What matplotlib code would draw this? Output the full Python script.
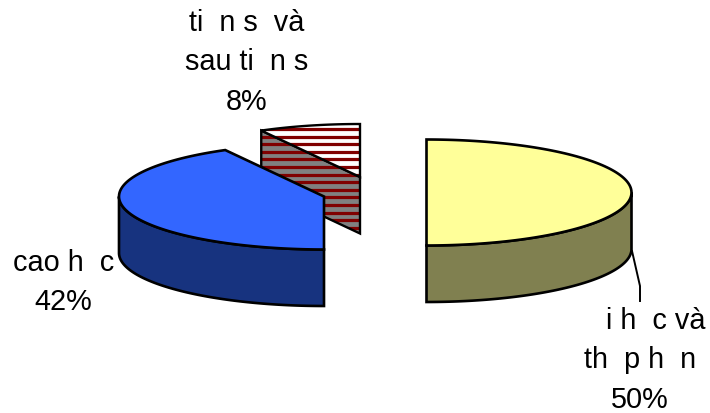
import numpy as np
import matplotlib
matplotlib.use("Agg")
import matplotlib.pyplot as plt
from matplotlib.patches import Polygon

plt.rcParams["font.family"] = ["Liberation Sans", "DejaVu Sans"]

# Education-level shares, percent
labels = ["    i h  c và\nth  p h  n", "cao h  c", "ti  n s  và\nsau ti  n s"]
shares = [50, 42, 8]

# Slice styling and layout, in canvas pixels
top_colors = ["#FFFF99", "#3366FF", "#FFFFFF"]
side_colors = ["#808050", "#17337F", "#808080"]
apex_points = [(426.5, 193.5), (324, 197.5), (360, 178)]
label_points = [(640, 360.5), (63.5, 282.5), (247, 62.5)]
RX, RY, DEPTH = 205, 53, 56.5
EDGE = "#000000"
STRIPE = "#800000"

W, H = 710, 414
fig = plt.figure(figsize=(W / 100, H / 100), dpi=100)
ax = fig.add_axes([0, 0, 1, 1])
ax.set_xlim(0, W)
ax.set_ylim(H, 0)
ax.axis("off")


def rim(center, a0, a1, n=120):
    """Projected rim of a tilted disc; angles run clockwise from 12 o'clock."""
    t = np.radians(np.linspace(a0, a1, n))
    return np.column_stack([center[0] + RX * np.sin(t), center[1] - RY * np.cos(t)])


def stripes(patch, y0, y1):
    # Horizontal bands clipped to the face
    for y in np.arange(y0, y1, 7.6):
        line, = ax.plot([0, W], [y, y], color=STRIPE, lw=2.3, zorder=patch.get_zorder(),
                        solid_capstyle="butt")
        line.set_clip_path(patch)


# Cumulative angles of each slice
edges = np.concatenate([[0], np.cumsum(shares)]) * 3.6
a0s, a1s = edges[:-1], edges[1:]

# Striped slice sits behind the others
c = apex_points[2]
r = rim(c, a0s[2], a1s[2])
wall = Polygon([c, r[0], r[0] + [0, DEPTH], np.add(c, [0, DEPTH])], closed=True,
               fc=side_colors[2], ec="none", zorder=1)
ax.add_patch(wall)
stripes(wall, 130, 240)
ax.add_patch(Polygon(wall.get_xy(), closed=True, fc="none", ec=EDGE, lw=1.7, zorder=1.2))
top = Polygon(np.vstack([[c], r]), closed=True, fc=top_colors[2], ec="none", zorder=1.3)
ax.add_patch(top)
stripes(top, 130, 240)
ax.add_patch(Polygon(top.get_xy(), closed=True, fc="none", ec=EDGE, lw=1.7, zorder=1.4))

# Solid slices: outer wall first, lid on top
for i in (1, 0):
    c = apex_points[i]
    visible0, visible1 = max(a0s[i], 90), min(a1s[i], 270)
    r = rim(c, visible0, visible1)
    ax.add_patch(Polygon(np.vstack([r, r[::-1] + [0, DEPTH]]), closed=True,
                         fc=side_colors[i], ec=EDGE, lw=1.9, zorder=2))
    ax.add_patch(Polygon(np.vstack([[c], rim(c, a0s[i], a1s[i])]), closed=True,
                         fc=top_colors[i], ec=EDGE, lw=1.9, zorder=3))

# Leader from the large slice to its label
ax.plot([632, 640, 640], [252, 287, 302], color=EDGE, lw=1.4, zorder=1)

for lab, share, (x, y) in zip(labels, shares, label_points):
    ax.text(x, y, f"{lab}\n{share}%", ha="center", va="center", fontsize=20.8,
            color="black", linespacing=1.52, multialignment="center")

fig.savefig("out.png", dpi=100)
